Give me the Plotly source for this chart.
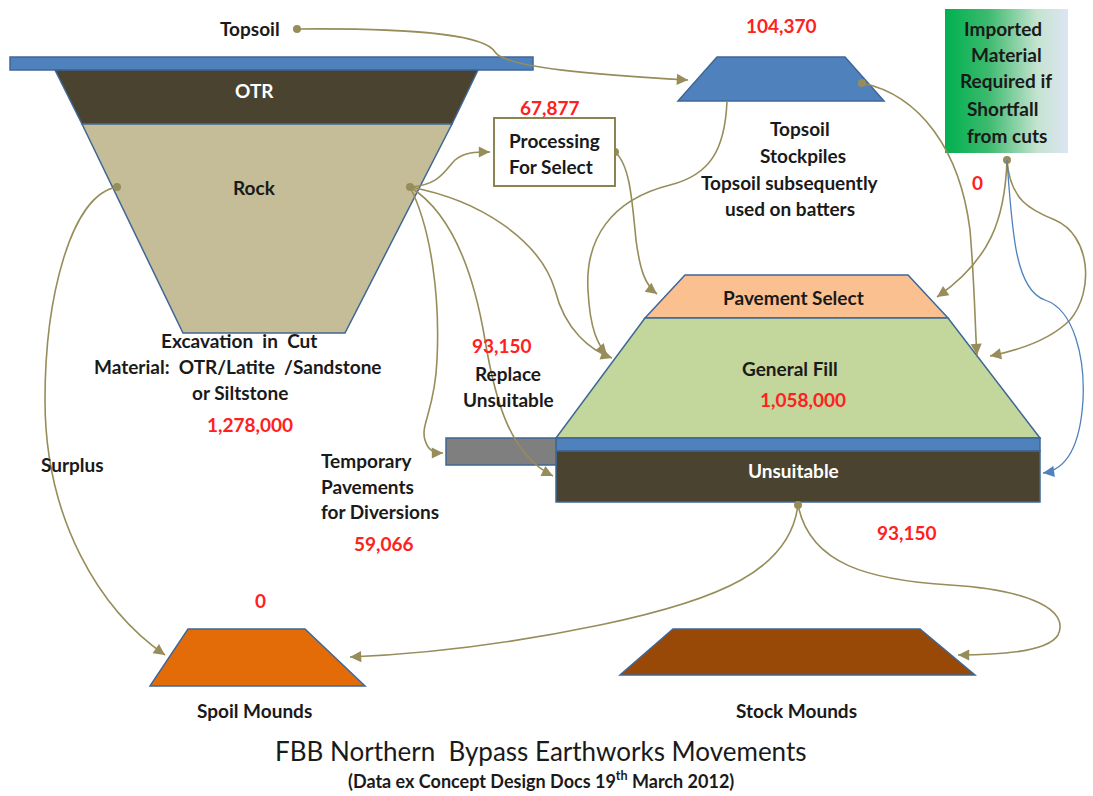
import plotly.graph_objects as go
import math

W, H = 1093, 796
OLIVE = "#968d5a"
BLUE = "#4f81bd"
EDGE = "#3f6796"
FONT = "Lato, 'Open Sans', sans-serif"

# ---- nodes (polygons) ----
blocks = {
    "topbar":    ([(10, 57), (533, 57), (533, 70), (10, 70)], BLUE),
    "otr":       ([(55, 70), (478, 70), (452, 124), (82, 124)], "#4a4330"),
    "rock":      ([(82, 124), (452, 124), (345, 333), (183, 333)], "#c4bd97"),
    "stockpile": ([(717, 57), (845, 57), (884, 101), (678, 101)], BLUE),
    "pavesel":   ([(685, 275), (908, 275), (948, 318), (645, 318)], "#fac090"),
    "genfill":   ([(645, 318), (948, 318), (1040, 438), (556, 438)], "#c3d69b"),
    "bluestrip": ([(556, 438), (1040, 438), (1040, 451), (556, 451)], BLUE),
    "unsuit":    ([(556, 451), (1040, 451), (1040, 502), (556, 502)], "#4a4330"),
    "temppave":  ([(446, 438), (556, 438), (556, 465), (446, 465)], "#7f7f7f"),
    "spoil":     ([(188, 629), (305, 629), (365, 686), (150, 686)], "#e36c09"),
    "stock":     ([(673, 629), (920, 629), (975, 675), (620, 675)], "#984807"),
}
process_box = [(494, 118), (615, 118), (615, 186), (494, 186)]
import_box = [(945, 9), (1068, 9), (1068, 153), (945, 153)]

# ---- flows: start point followed by cubic bezier triples ----
flows = [
    ([(297, 29), (420, 28), (485, 35), (495, 52), (505, 68), (600, 75), (688, 80)], OLIVE),
    ([(410, 187), (440, 185), (445, 170), (455, 160), (465, 152), (475, 152), (490, 152)], OLIVE),
    ([(410, 187), (480, 200), (540, 240), (555, 290), (565, 330), (590, 350), (612, 358)], OLIVE),
    ([(410, 187), (455, 215), (475, 280), (485, 340), (495, 400), (510, 455), (553, 476)], OLIVE),
    ([(410, 187), (432, 230), (440, 300), (437, 360), (435, 410), (420, 425), (425, 440),
      (428, 450), (433, 453), (443, 453)], OLIVE),
    ([(615, 152), (630, 165), (632, 200), (636, 240), (640, 270), (645, 285), (657, 294)], OLIVE),
    ([(727, 101), (725, 150), (710, 175), (670, 185), (610, 200), (585, 240), (588, 290),
      (590, 330), (598, 345), (607, 355)], OLIVE),
    ([(117, 187), (70, 195), (45, 300), (45, 400), (45, 520), (100, 610), (165, 655)], OLIVE),
    ([(798, 505), (790, 570), (720, 600), (600, 625), (480, 650), (400, 655), (350, 657)], OLIVE),
    ([(798, 505), (810, 565), (870, 580), (950, 585), (1030, 590), (1070, 610), (1058, 635),
      (1048, 652), (1000, 655), (958, 655)], OLIVE),
    ([(862, 83), (920, 95), (960, 150), (970, 230), (975, 290), (975, 330), (977, 355)], OLIVE),
    ([(1007, 160), (1005, 220), (990, 260), (937, 297)], OLIVE),
    ([(1007, 160), (1010, 200), (1030, 210), (1055, 220), (1090, 235), (1095, 290), (1070, 320),
      (1050, 340), (1020, 350), (990, 356)], OLIVE),
    ([(1007, 160), (1012, 230), (1015, 290), (1045, 300), (1075, 310), (1085, 360), (1083, 400),
      (1080, 450), (1065, 470), (1043, 473)], BLUE),
]
dots_x = [297, 117, 410, 615, 862, 1007, 798]
dots_y = [29, 187, 187, 152, 83, 160, 505]

# ---- texts: (text, x, y, color, size, xanchor, bold) ----
BLACK, RED, WHITE = "#1a1a1a", "#ff2020", "#ffffff"
S = 19
texts = [
    ("Topsoil", 250, 28, BLACK, S, "center", True),
    ("OTR", 254, 90, WHITE, S, "center", True),
    ("Rock", 254, 187, BLACK, S, "center", True),
    ("104,370", 781, 25, RED, S, "center", True),
    ("67,877", 550, 107, RED, S, "center", True),
    ("Processing", 554, 140, BLACK, S, "center", True),
    ("For Select", 551, 166, BLACK, S, "center", True),
    ("Topsoil", 800, 128, BLACK, S, "center", True),
    ("Stockpiles", 803, 155, BLACK, S, "center", True),
    ("Topsoil subsequently", 790, 182, BLACK, S, "center", True),
    ("used on batters", 790, 208, BLACK, S, "center", True),
    ("Imported", 1003, 28, BLACK, S, "center", True),
    ("Material", 1006, 54, BLACK, S, "center", True),
    ("Required if", 1006, 80, BLACK, S, "center", True),
    ("Shortfall", 1002, 108, BLACK, S, "center", True),
    ("from cuts", 1007, 135, BLACK, S, "center", True),
    ("0", 977, 182, RED, S, "center", True),
    ("Pavement Select", 793, 297, BLACK, S, "center", True),
    ("General Fill", 790, 368, BLACK, S, "center", True),
    ("1,058,000", 803, 399, RED, S, "center", True),
    ("Unsuitable", 793, 470, WHITE, S, "center", True),
    ("Excavation  in  Cut", 239, 340, BLACK, S, "center", True),
    ("Material:  OTR/Latite  /Sandstone", 238, 366, BLACK, S, "center", True),
    ("or Siltstone", 240, 392, BLACK, S, "center", True),
    ("1,278,000", 250, 424, RED, S, "center", True),
    ("Surplus", 72, 464, BLACK, S, "center", True),
    ("Temporary", 319, 460, BLACK, S, "left", True),
    ("Pavements", 319, 486, BLACK, S, "left", True),
    ("for Diversions", 319, 511, BLACK, S, "left", True),
    ("59,066", 384, 543, RED, S, "center", True),
    ("93,150", 502, 345, RED, S, "center", True),
    ("Replace", 508, 373, BLACK, S, "center", True),
    ("Unsuitable", 508, 399, BLACK, S, "center", True),
    ("93,150", 907, 532, RED, S, "center", True),
    ("0", 260, 600, RED, S, "center", True),
    ("Spoil Mounds", 254, 710, BLACK, S, "center", True),
    ("Stock Mounds", 796, 710, BLACK, S, "center", True),
    ("FBB Northern  Bypass Earthworks Movements", 541, 751, BLACK, 26, "center", False),
    ("(Data ex Concept Design Docs 19<sup>th</sup> March 2012)", 541, 780, BLACK, 18, "center", True),
]

fig = go.Figure()
shapes = []

def poly_path(pts):
    return "M " + " L ".join(f"{x},{y}" for x, y in pts) + " Z"

for name, (pts, col) in blocks.items():
    shapes.append(dict(type="path", path=poly_path(pts), xref="x", yref="y",
                       fillcolor=col, line=dict(color=EDGE, width=1.5), layer="below"))

shapes.append(dict(type="path", path=poly_path(process_box), xref="x", yref="y",
                   fillcolor="white", line=dict(color="#8c8352", width=2)))

# imported box with gradient (scatter fill)
fig.add_trace(go.Scatter(
    x=[p[0] for p in import_box] + [import_box[0][0]],
    y=[p[1] for p in import_box] + [import_box[0][1]],
    mode="lines", fill="toself", line=dict(width=0, color="rgba(0,0,0,0)"),
    fillgradient=dict(type="horizontal",
                      colorscale=[[0, "#00b050"], [0.35, "#3cba6e"], [0.75, "#c4e3d0"], [1, "#dde5f3"]]),
    hoverinfo="skip", showlegend=False))

annotations = []
for pts, col in flows:
    p0 = pts[0]
    d = f"M {p0[0]},{p0[1]}"
    for i in range(1, len(pts), 3):
        c1, c2, p = pts[i], pts[i + 1], pts[i + 2]
        d += f" C {c1[0]},{c1[1]} {c2[0]},{c2[1]} {p[0]},{p[1]}"
    shapes.append(dict(type="path", path=d, xref="x", yref="y",
                       line=dict(color=col, width=1.6 if col == OLIVE else 1.3)))
    end, ctrl = pts[-1], pts[-2]
    dx, dy = end[0] - ctrl[0], end[1] - ctrl[1]
    L = math.hypot(dx, dy) or 1
    annotations.append(dict(x=end[0], y=end[1], ax=end[0] - 6 * dx / L, ay=end[1] - 6 * dy / L,
                            xref="x", yref="y", axref="x", ayref="y", text="", showarrow=True,
                            arrowhead=2, arrowsize=1.6, arrowwidth=1.4, arrowcolor=col))

fig.add_trace(go.Scatter(x=dots_x, y=dots_y, mode="markers",
                         marker=dict(size=8, color=OLIVE), hoverinfo="skip", showlegend=False))

for t, x, y, c, s, anc, bold in texts:
    annotations.append(dict(x=x, y=y, xref="x", yref="y", text=f"<b>{t}</b>" if bold else t,
                            showarrow=False, xanchor=anc, yanchor="middle",
                            font=dict(family=FONT, size=s, color=c)))

fig.update_layout(
    width=W, height=H, margin=dict(l=0, r=0, t=0, b=0),
    paper_bgcolor="white", plot_bgcolor="white",
    xaxis=dict(range=[0, W], visible=False, fixedrange=True),
    yaxis=dict(range=[H, 0], visible=False, fixedrange=True),
    shapes=shapes, annotations=annotations, showlegend=False,
)
fig.write_html("out.html", config={"displayModeBar": False},
               post_script="document.body.style.margin='0';document.body.style.overflow='hidden';")
